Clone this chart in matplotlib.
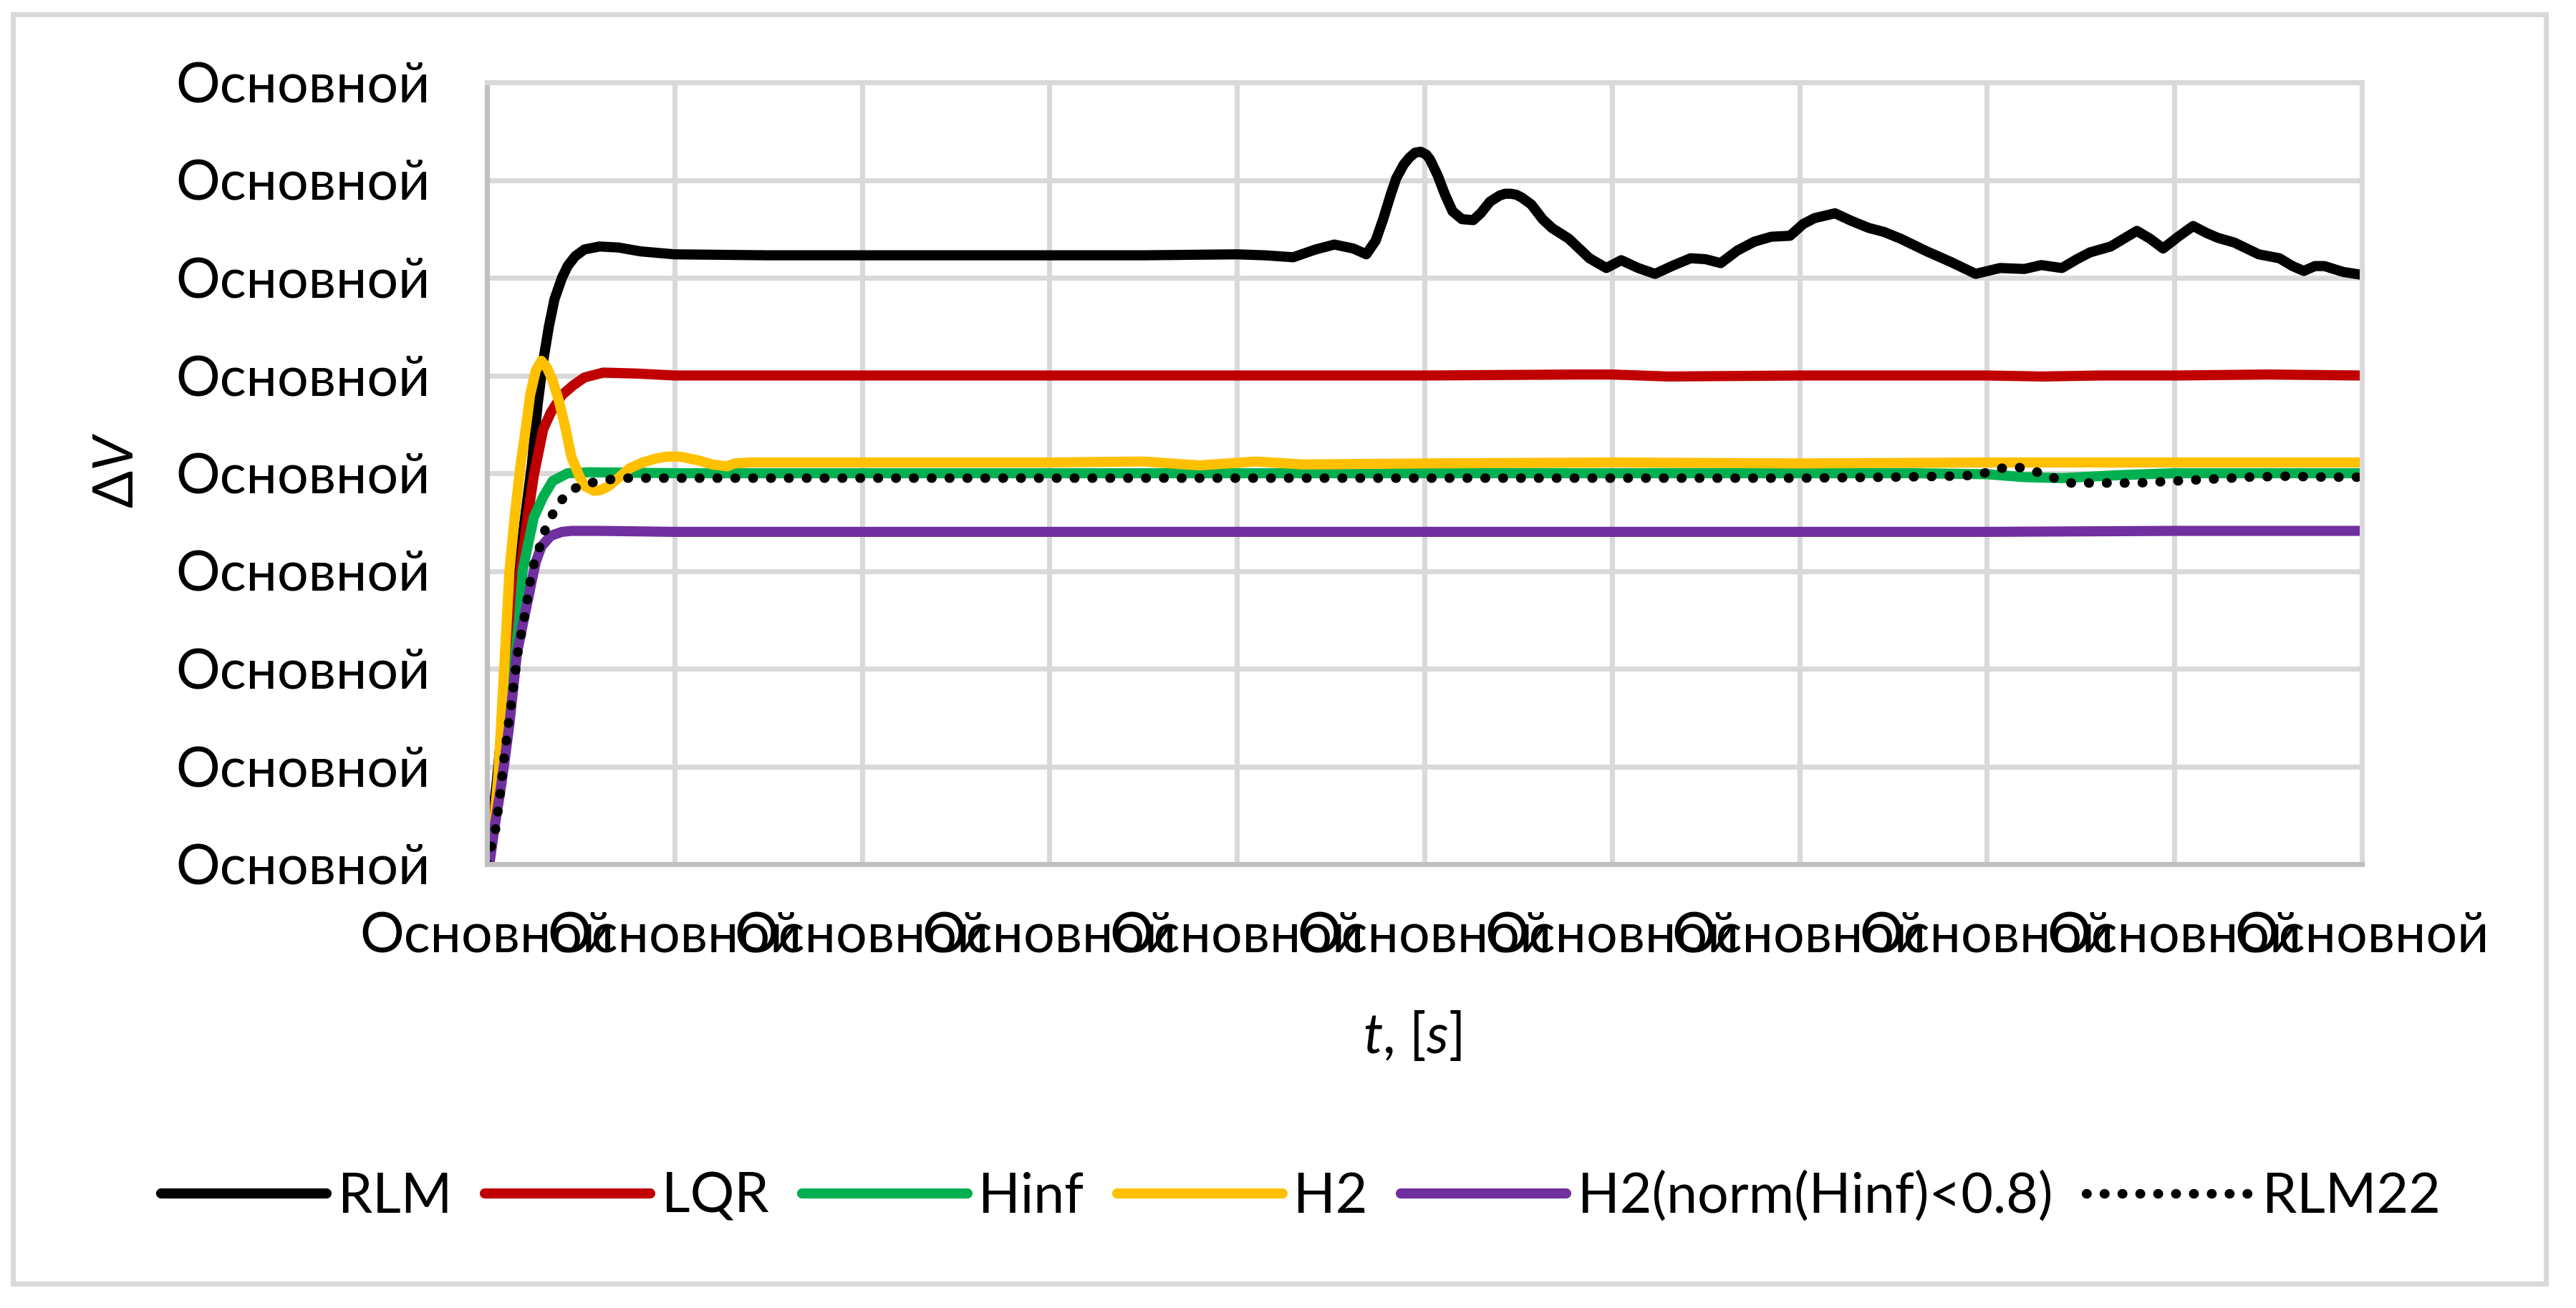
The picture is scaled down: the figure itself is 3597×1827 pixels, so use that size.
import matplotlib
matplotlib.use("Agg")
import matplotlib.pyplot as plt
from matplotlib.patches import Rectangle

plt.rcParams['font.family'] = ['Lato', 'Noto Sans', 'DejaVu Sans']
plt.rcParams['mathtext.fontset'] = 'custom'
plt.rcParams['mathtext.rm'] = 'Lato'
plt.rcParams['mathtext.it'] = 'Lato:italic'

# ---- data (x in grid steps, y in grid steps) ----
tick_text = 'Основной'
x_ticks = [0, 1, 2, 3, 4, 5, 6, 7, 8, 9, 10]
y_ticks = [0, 1, 2, 3, 4, 5, 6, 7, 8]

t_rlm = [0, 0.05, 0.10, 0.15, 0.20, 0.24, 0.27, 0.30, 0.33, 0.36, 0.40, 0.43, 0.47, 0.52,
         0.60, 0.70, 0.82, 1.0, 1.5, 2.0, 2.5, 3.0, 3.5, 4.0, 4.15, 4.30, 4.42, 4.52, 4.62,
         4.69, 4.74, 4.78, 4.82, 4.85, 4.89, 4.92, 4.95, 4.98, 5.01, 5.03, 5.07, 5.11, 5.15,
         5.20, 5.26, 5.30, 5.35, 5.40, 5.43, 5.46, 5.49, 5.52, 5.57, 5.63, 5.68, 5.77, 5.88,
         5.97, 6.05, 6.14, 6.23, 6.32, 6.42, 6.50, 6.58, 6.67, 6.76, 6.85, 6.95, 7.02, 7.08,
         7.19, 7.28, 7.37, 7.45, 7.54, 7.68, 7.81, 7.94, 8.07, 8.20, 8.29, 8.40, 8.48, 8.55,
         8.66, 8.73, 8.80, 8.87, 8.94, 9.02, 9.10, 9.17, 9.23, 9.32, 9.45, 9.56, 9.63, 9.69,
         9.75, 9.80, 9.90, 10.0]
v_rlm = [0, 0.8, 1.8, 2.7, 3.5, 4.1, 4.7, 5.15, 5.5, 5.78, 6.0, 6.12, 6.22, 6.29,
         6.32, 6.31, 6.27, 6.24, 6.23, 6.23, 6.23, 6.23, 6.23, 6.24, 6.23, 6.21, 6.29, 6.34, 6.30,
         6.24, 6.38, 6.6, 6.85, 7.02, 7.16, 7.23, 7.28, 7.29, 7.26, 7.21, 7.05, 6.85, 6.68,
         6.60, 6.59, 6.66, 6.78, 6.84, 6.86, 6.86, 6.85, 6.82, 6.75, 6.60, 6.51, 6.40, 6.20,
         6.10, 6.18, 6.10, 6.04, 6.12, 6.20, 6.19, 6.15, 6.28, 6.37, 6.42, 6.43, 6.55, 6.61,
         6.66, 6.58, 6.51, 6.47, 6.40, 6.27, 6.16, 6.04, 6.10, 6.09, 6.13, 6.10, 6.19, 6.26,
         6.32, 6.40, 6.48, 6.40, 6.30, 6.42, 6.53, 6.46, 6.41, 6.36, 6.24, 6.20, 6.12, 6.07,
         6.12, 6.12, 6.06, 6.03]

t_lqr = [0, 0.05, 0.10, 0.15, 0.175, 0.21, 0.25, 0.30, 0.34, 0.40, 0.46, 0.52, 0.62, 0.80,
         1.0, 2.0, 3.0, 4.0, 5.0, 5.8, 6.0, 6.3, 7.0, 8.0, 8.3, 8.6, 9.0, 9.5, 10.0]
v_lqr = [0, 0.7, 1.6, 2.5, 2.95, 3.46, 3.98, 4.45, 4.62, 4.8, 4.9, 4.98, 5.03, 5.02,
         5.0, 5.0, 5.0, 5.0, 5.0, 5.01, 5.01, 4.99, 5.0, 5.0, 4.99, 5.0, 5.0, 5.01, 5.0]

t_hinf = [0, 0.05, 0.10, 0.14, 0.17, 0.19, 0.22, 0.25, 0.30, 0.35, 0.43, 0.55, 1.0, 2.0,
          3.0, 4.0, 5.0, 6.0, 7.0, 7.6, 8.0, 8.2, 8.4, 8.7, 9.0, 10.0]
v_hinf = [0, 0.6, 1.3, 1.95, 2.48, 3.0, 3.28, 3.55, 3.76, 3.92, 4.0, 4.01, 4.0, 4.0,
          4.0, 4.0, 4.0, 4.0, 4.0, 4.0, 3.99, 3.96, 3.95, 3.98, 4.0, 4.0]

t_h2 = [0, 0.02, 0.04, 0.06, 0.09, 0.12, 0.15, 0.18, 0.21, 0.23, 0.26, 0.29, 0.32, 0.35,
        0.385, 0.42, 0.45, 0.49, 0.52, 0.57, 0.61, 0.65, 0.70, 0.76, 0.83, 0.90, 0.96, 1.03,
        1.13, 1.20, 1.28, 1.32, 1.40, 1.6, 2.0, 2.5, 3.0, 3.5, 3.8, 4.1, 4.35, 5.0, 6.0, 7.0,
        8.0, 9.0, 10.0]
v_h2 = [0, 0.1, 0.45, 0.9, 1.95, 3.0, 3.6, 4.1, 4.5, 4.8, 5.05, 5.15, 5.08, 4.95,
        4.73, 4.45, 4.17, 3.98, 3.87, 3.82, 3.83, 3.87, 3.95, 4.05, 4.11, 4.15, 4.17, 4.17,
        4.13, 4.09, 4.07, 4.10, 4.11, 4.11, 4.11, 4.11, 4.11, 4.12, 4.08, 4.12, 4.09, 4.10, 4.11, 4.10,
        4.11, 4.11, 4.11]

t_h2n = [0, 0.013, 0.038, 0.069, 0.095, 0.12, 0.14, 0.16, 0.18, 0.20, 0.22, 0.24, 0.26,
         0.29, 0.34, 0.40, 0.45, 0.6, 1.0, 2.0, 3.0, 4.0, 5.0, 6.0, 7.0, 8.0, 9.0, 10.0]
v_h2n = [0, 0, 0.35, 0.72, 1.07, 1.44, 1.80, 2.16, 2.35, 2.54, 2.72, 2.91, 3.09,
         3.25, 3.36, 3.40, 3.41, 3.41, 3.40, 3.40, 3.40, 3.40, 3.40, 3.40, 3.40, 3.40, 3.41, 3.41]

t_rlm22 = [0, 0.045, 0.07, 0.09, 0.115, 0.14, 0.165, 0.20, 0.23, 0.25, 0.28, 0.31, 0.35,
           0.40, 0.46, 0.55, 0.63, 0.72, 1.0, 2.0, 3.0, 4.0, 5.0, 6.0, 7.0, 7.5, 7.8, 7.95,
           8.07, 8.17, 8.27, 8.36, 8.45, 8.6, 8.8, 9.0, 9.2, 9.4, 9.6, 9.8, 10.0]
v_rlm22 = [0, 0.35, 0.71, 1.07, 1.44, 1.80, 2.17, 2.53, 2.89, 3.07, 3.24, 3.42, 3.58,
           3.73, 3.84, 3.90, 3.93, 3.95, 3.95, 3.95, 3.95, 3.95, 3.95, 3.95, 3.95, 3.96, 3.97, 3.98,
           4.05, 4.06, 4.01, 3.95, 3.90, 3.90, 3.90, 3.92, 3.94, 3.96, 3.97, 3.96, 3.96]

W, H = 3597, 1827
fs = 18.5
fig = plt.figure(figsize=(W / 300, H / 300), dpi=300)
ax = fig.add_axes([680 / W, 1 - 1207 / H, (3298 - 680) / W, (1207 - 115) / H])

lw = 3.4
kw = dict(lw=lw, solid_capstyle='round', solid_joinstyle='round')
ax.plot(t_rlm, v_rlm, color='#000000', label='RLM', **kw)
ax.plot(t_lqr, v_lqr, color='#C00000', label='LQR', **kw)
ax.plot(t_hinf, v_hinf, color='#00B050', label='Hinf', **kw)
ax.plot(t_h2, v_h2, color='#FFC000', label='H2', **kw)
ax.plot(t_h2n, v_h2n, color='#7030A0', label='H2(norm(Hinf)<0.8)', **kw)
ax.plot(t_rlm22, v_rlm22, color='#000000', lw=3.2, ls=(0, (0.05, 1.82)),
        dash_capstyle='round', label='RLM22')

ax.set_xlim(0, 10)
ax.set_ylim(0, 8)
ax.set_xticks(x_ticks)
ax.set_yticks(y_ticks)
ax.set_xticklabels([tick_text] * len(x_ticks))
ax.set_yticklabels([tick_text] * len(y_ticks))
ax.tick_params(axis='both', length=0, labelsize=fs)
ax.tick_params(axis='y', pad=19)
ax.tick_params(axis='x', pad=16)

ax.grid(True, color='#D9D9D9', lw=1.7)
ax.set_axisbelow(True)
for side in ['left', 'bottom']:
    ax.spines[side].set_color('#BFBFBF')
    ax.spines[side].set_linewidth(1.7)
for side in ['top', 'right']:
    ax.spines[side].set_color('#D9D9D9')
    ax.spines[side].set_linewidth(1.7)

fig.text(165 / W, 1 - 657 / H, r'$\Delta V$', rotation=90, ha='center', va='center', fontsize=fs)
fig.text(1972 / W, 1 - 1448 / H, r'$t$, [$s$]', ha='center', va='center', fontsize=fs)

fig.legend(loc='center', bbox_to_anchor=(0.505, 1 - 1672 / H), ncol=6, frameon=False,
           fontsize=fs, handlelength=3.0, handletextpad=0.2, columnspacing=0.6)

fig.patches.append(Rectangle((18 / W, 1 - 1793 / H), (3555 - 18) / W, (1793 - 20) / H,
                             transform=fig.transFigure, fill=False, ec='#D9D9D9', lw=1.7))

fig.savefig('out.png', dpi=300)
